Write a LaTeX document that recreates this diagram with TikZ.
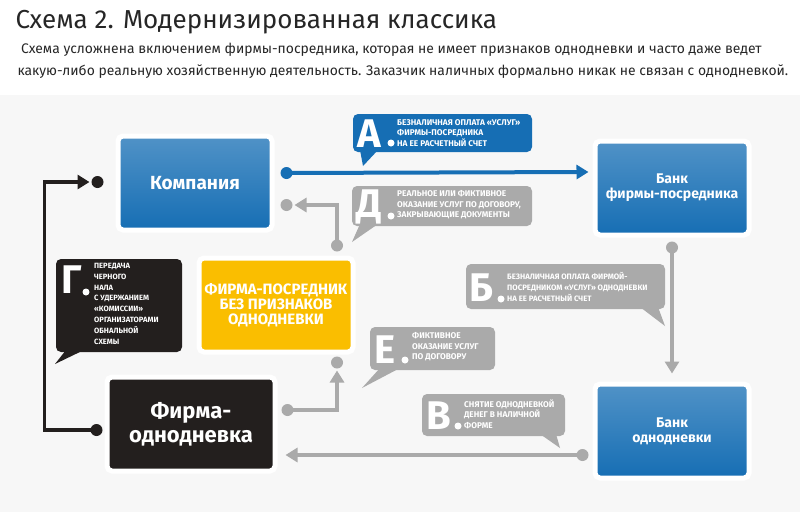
\documentclass[tikz,border=0pt]{standalone}
\usepackage{fontspec}
\setmainfont{Fira Sans}
\usetikzlibrary{arrows.meta,calc}

\definecolor{ablue}{RGB}{22,110,180}
\definecolor{bgray}{RGB}{170,170,170}
\definecolor{dblack}{RGB}{35,31,30}
\definecolor{fyellow}{RGB}{250,190,0}

\tikzset{
  firmbox/.style={rounded corners=5pt, minimum width=154pt, minimum height=94pt,
    align=center, text=white, font=\bfseries\fontsize{19}{20}\selectfont,
    draw=white, line width=5pt},
  calltext/.style={anchor=west, align=left, text=white, inner sep=1pt,
    font=\bfseries\fontsize{8.3}{10.6}\selectfont},
  bigletter/.style={anchor=west, text=white, font=\bfseries\fontsize{40}{40}\selectfont},
  link/.style={line width=4pt, -{Triangle[length=12pt,width=14pt]}},
}

\begin{document}
\begin{tikzpicture}[x=1pt,y=-1pt]
  \useasboundingbox (0,0) rectangle (800,512);
  \fill[gray!6] (0,95) rectangle (800,512);

  % title
  \node[anchor=west, font=\fontsize{26}{28}\selectfont, text=black!85] (title) at (12,22) {Схема 2. Модернизированная классика};
  \node[anchor=north west, align=left, font=\fontsize{13.9}{22}\selectfont, text=black!85] (sub) at (14,40)
    {\ Схема усложнена включением фирмы-посредника, которая не имеет признаков однодневки и часто даже ведет\\
     какую-либо реальную хозяйственную деятельность. Заказчик наличных формально никак не связан с однодневкой.};

  % firms and banks
  \node[firmbox, top color=ablue!75, bottom color=ablue] (comp) at (195,183) {Компания};
  \node[firmbox, top color=ablue!75, bottom color=ablue, font=\bfseries\fontsize{14}{15}\selectfont] (bankp) at (672,188) {Банк\\ фирмы-посредника};
  \node[firmbox, fill=fyellow, font=\bfseries\fontsize{15}{15}\selectfont] (posr) at (276,305) {ФИРМА-ПОСРЕДНИК\\ БЕЗ ПРИЗНАКОВ\\ ОДНОДНЕВКИ};
  \node[firmbox, fill=dblack, minimum width=168pt, font=\bfseries\fontsize{22}{24}\selectfont] (odn) at (191,424) {Фирма-\\ однодневка};
  \node[firmbox, top color=ablue!75, bottom color=ablue, font=\bfseries\fontsize{14}{15}\selectfont] (banko) at (672,431) {Банк\\ однодневки};

  % connectors
  \coordinate (ga) at ($(comp.east)+(12,-10)$);
  \fill[ablue] (ga) circle (6pt);
  \draw[link, ablue] (ga) -- ($(bankp.west)+(-4,-16)$);

  \coordinate (gb) at ($(bankp.south)+(0,10)$);
  \fill[bgray] (gb) circle (6pt);
  \draw[link, bgray] (gb) -- ($(banko.north)+(0,-8)$);

  \coordinate (gv) at ($(banko.west)+(-10,24)$);
  \fill[bgray] (gv) circle (6pt);
  \draw[link, bgray] (gv) -- ($(odn.east)+(8,31)$);

  \coordinate (gd) at ($(posr.north)+(61,-10)$);
  \coordinate (gd2) at ($(comp.east)+(12,22)$);
  \fill[bgray] (gd) circle (6pt) (gd2) circle (6pt);
  \draw[link, bgray] (gd) |- ($(gd2)+(8,0)$);

  \coordinate (ge) at ($(odn.east)+(10,-14)$);
  \coordinate (ge2) at ($(posr.south)+(61,8)$);
  \fill[bgray] (ge) circle (6pt) (ge2) circle (6pt);
  \draw[link, bgray] (ge) -| ($(ge2)+(0,8)$);

  \coordinate (gg) at ($(odn.west)+(-8,6)$);
  \coordinate (gg2) at ($(comp.west)+(-18,-1)$);
  \fill[dblack] (gg) circle (6pt) (gg2) circle (6pt);
  \draw[link, dblack, line width=3.5pt] (gg) -- ++(-52,0) |- ($(gg2)+(-8,0)$);

  % callout A
  \fill[ablue, rounded corners=5pt] (353,114) rectangle (532,152);
  \fill[ablue] (360,150) -- (363,166) -- (378,150) -- cycle;
  \node[bigletter] (la) at (354,134) {А};
  \fill[white] (391,143) circle (3.5pt);
  \node[calltext] (ta) at (396,133) {БЕЗНАЛИЧНАЯ ОПЛАТА «УСЛУГ»\\ ФИРМЫ-ПОСРЕДНИКА\\ НА ЕЕ РАСЧЕТНЫЙ СЧЕТ};

  % callout D
  \fill[bgray, rounded corners=5pt] (352,186) rectangle (532,226);
  \fill[bgray] (360,224) -- (352,242) -- (378,224) -- cycle;
  \node[bigletter] (ld) at (353,207) {Д};
  \fill[white] (391,216) circle (3.5pt);
  \node[calltext] (td) at (396,205) {РЕАЛЬНОЕ ИЛИ ФИКТИВНОЕ\\ ОКАЗАНИЕ УСЛУГ ПО ДОГОВОРУ,\\ ЗАКРЫВАЮЩИЕ ДОКУМЕНТЫ};

  % callout B
  \fill[bgray, rounded corners=5pt] (466,264) rectangle (665,309);
  \fill[bgray] (640,307) -- (665,326) -- (658,307) -- cycle;
  \node[bigletter] (lb) at (466,288) {Б};
  \fill[white] (501,299) circle (3.5pt);
  \node[calltext, font=\bfseries\fontsize{7.8}{10.6}\selectfont] (tb) at (506,287) {БЕЗНАЛИЧНАЯ ОПЛАТА ФИРМОЙ-\\ ПОСРЕДНИКОМ «УСЛУГ» ОДНОДНЕВКИ\\ НА ЕЕ РАСЧЕТНЫЙ СЧЕТ};

  % callout E
  \fill[bgray, rounded corners=5pt] (370,327) rectangle (495,370);
  \fill[bgray] (380,368) -- (362,388) -- (400,368) -- cycle;
  \node[bigletter] (le) at (371,350) {Е};
  \fill[white] (405,360) circle (3.5pt);
  \node[calltext] (te) at (411,347) {ФИКТИВНОЕ\\ ОКАЗАНИЕ УСЛУГ\\ ПО ДОГОВОРУ};

  % callout V
  \fill[bgray, rounded corners=5pt] (422,394) rectangle (565,436);
  \fill[bgray] (540,434) -- (560,448) -- (556,434) -- cycle;
  \node[bigletter] (lv) at (423,416) {В};
  \fill[white] (458,426) circle (3.5pt);
  \node[calltext] (tv) at (463,414) {СНЯТИЕ ОДНОДНЕВКОЙ\\ ДЕНЕГ В НАЛИЧНОЙ\\ ФОРМЕ};

  % callout G
  \fill[dblack, rounded corners=5pt] (56,259) rectangle (182,352);
  \fill[dblack] (66,350) -- (55,364) -- (84,350) -- cycle;
  \node[bigletter] (lg) at (58,280) {Г};
  \fill[white] (86,292) circle (3.5pt);
  \node[calltext, anchor=north west, font=\bfseries\fontsize{7.6}{10.8}\selectfont] (tg) at (93,262) {ПЕРЕДАЧА\\ ЧЕРНОГО\\ НАЛА\\ С УДЕРЖАНИЕМ\\ «КОМИССИИ»\\ ОРГАНИЗАТОРАМИ\\ ОБНАЛЬНОЙ\\ СХЕМЫ};
\end{tikzpicture}
\end{document}
